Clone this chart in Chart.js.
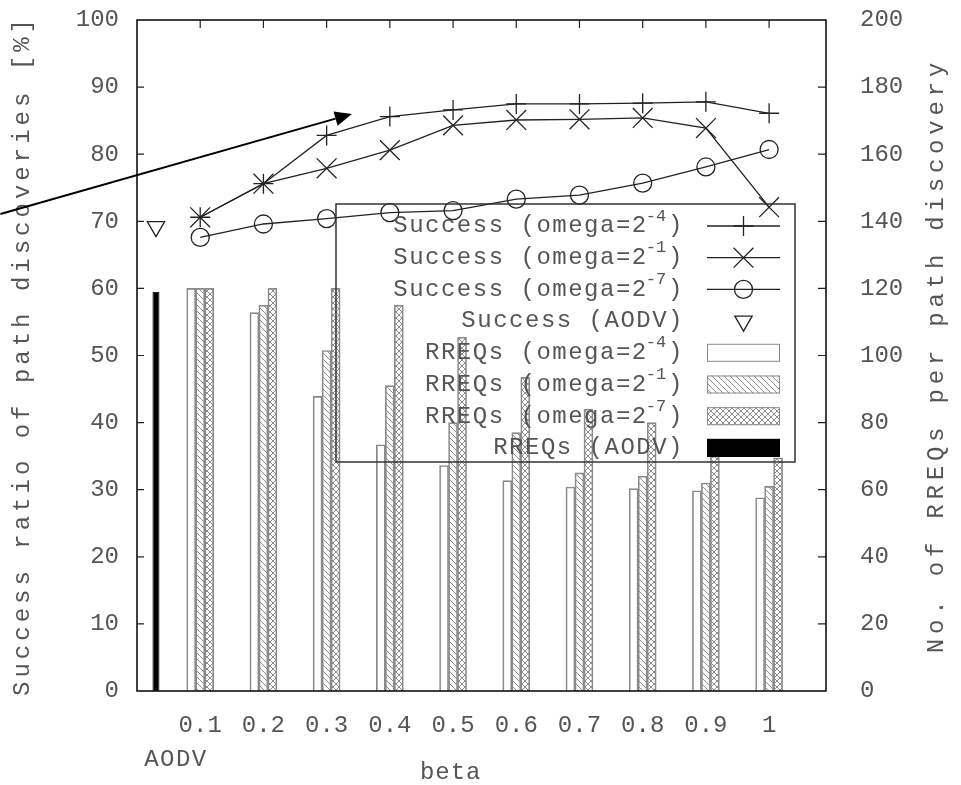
<!DOCTYPE html>
<html><head><meta charset="utf-8">
<script src="https://cdn.jsdelivr.net/npm/chart.js@4"></script>
<style>html,body{margin:0;padding:0;background:#fff;}canvas{display:block;}</style>
</head><body>
<canvas id="c" width="961" height="785"></canvas>
<script>
// ---------- data ----------
const betas = [0.1, 0.2, 0.3, 0.4, 0.5, 0.6, 0.7, 0.8, 0.9, 1];
const betaTickLabels = ['0.1','0.2','0.3','0.4','0.5','0.6','0.7','0.8','0.9','1'];
const successOmega4 = [70.6, 75.6, 82.8, 85.6, 86.6, 87.5, 87.5, 87.6, 87.8, 86.1];
const successOmega1 = [70.6, 75.6, 77.9, 80.6, 84.3, 85.1, 85.2, 85.4, 83.9, 72.1];
const successOmega7 = [67.6, 69.6, 70.4, 71.3, 71.6, 73.3, 73.9, 75.7, 78.1, 80.7];
const aodvBeta = 0.03;
const aodvLabel = 'AODV';
const successAODV = 69.2;
const rreqOmega4 = [120, 112.8, 87.8, 73.4, 67.2, 62.7, 60.8, 60.3, 59.7, 57.6];
const rreqOmega1 = [120, 115, 101.5, 91, 80, 77, 65, 64, 62, 61];
const rreqOmega7 = [120, 120, 120, 115, 105.5, 93.5, 84, 80, 70, 69.5];
const rreqAODV = 119;
const legendLabels = ['Success (omega=2','Success (omega=2','Success (omega=2','Success (AODV)',
                      'RREQs (omega=2','RREQs (omega=2','RREQs (omega=2','RREQs (AODV)'];
const legendSups = ['-4','-1','-7','','-4','-1','-7',''];
const arrowFrom = {x: -0.216, y: 71.1};
const arrowTo = {x: 0.34, y: 86.0};
const xTitle = 'beta';
const yTitle = 'Success ratio of path discoveries [%]';
const y2Title = 'No. of RREQs per path discovery';

// ---------- styles ----------
const FONT = "'Liberation Mono', 'DejaVu Sans Mono', monospace";
const TXT = '#555';
const LINE = '#222';
const canvas = document.getElementById('c');
const mainCtx = canvas.getContext('2d');

function makePattern(kind) {
  const c = document.createElement('canvas');
  c.width = 6; c.height = 6;
  const g = c.getContext('2d');
  g.strokeStyle = '#8c8c8c'; g.lineWidth = 1;
  g.beginPath();
  if (kind === 'diag' || kind === 'cross') { g.moveTo(0, 0); g.lineTo(6, 6); }
  if (kind === 'cross') { g.moveTo(6, 0); g.lineTo(0, 6); }
  g.stroke();
  return mainCtx.createPattern(c, 'repeat');
}
const patDiag = makePattern('diag');
const patCross = makePattern('cross');

const xy = (xs, ys) => xs.map((x, i) => ({x, y: ys[i]}));

const lineDs = (label, data, style, radius, rot) => ({
  type: 'line', label, data, yAxisID: 'y', order: 0,
  borderColor: LINE, borderWidth: 1.3, fill: false, tension: 0,
  pointStyle: style, pointRadius: radius, pointRotation: rot || 0,
  pointBorderColor: LINE, pointBackgroundColor: 'rgba(0,0,0,0)', pointBorderWidth: 1.3
});
const barDs = (label, data, bg, border, extra) => Object.assign({
  type: 'bar', label, data, yAxisID: 'y2', order: 1,
  backgroundColor: bg, borderColor: border, borderWidth: 1, barThickness: 9
}, extra || {});

const datasets = [
  lineDs('Success (omega=2^-4)', xy(betas, successOmega4), 'cross', 10),
  lineDs('Success (omega=2^-1)', xy(betas, successOmega1), 'crossRot', 14),
  lineDs('Success (omega=2^-7)', xy(betas, successOmega7), 'circle', 9),
  Object.assign(lineDs('Success (AODV)', [{x: aodvBeta, y: successAODV}], 'triangle', 10, 180), {showLine: false}),
  barDs('RREQs (omega=2^-4)', xy(betas, rreqOmega4), 'rgba(255,255,255,0)', '#8a8a8a'),
  barDs('RREQs (omega=2^-1)', xy(betas, rreqOmega1), patDiag, '#8a8a8a'),
  barDs('RREQs (omega=2^-7)', xy(betas, rreqOmega7), patCross, '#8a8a8a'),
  barDs('RREQs (AODV)', [{x: aodvBeta, y: rreqAODV}], '#000', '#000', {grouped: false, barThickness: undefined, maxBarThickness: 7})
];

// ---------- helpers ----------
function drawMarker(ctx, style, r, x, y, rot) {
  ctx.beginPath();
  if (style === 'cross') { ctx.moveTo(x - r, y); ctx.lineTo(x + r, y); ctx.moveTo(x, y - r); ctx.lineTo(x, y + r); }
  else if (style === 'crossRot') { const d = r * Math.SQRT1_2; ctx.moveTo(x - d, y - d); ctx.lineTo(x + d, y + d); ctx.moveTo(x + d, y - d); ctx.lineTo(x - d, y + d); }
  else if (style === 'circle') { ctx.arc(x, y, r, 0, Math.PI * 2); }
  else if (style === 'triangle') {
    let a = (rot || 0) * Math.PI / 180;
    for (let k = 0; k < 3; k++) { const px = x + Math.sin(a) * r, py = y - Math.cos(a) * r; k ? ctx.lineTo(px, py) : ctx.moveTo(px, py); a += 2 * Math.PI / 3; }
    ctx.closePath();
  }
  ctx.stroke();
}

const titleSpacing = {y: '4px', y2: '4.8px', x: '1px'};

const customPlugin = {
  id: 'gnuplotLook',
  beforeDraw(chart) {
    for (const id of Object.keys(titleSpacing)) {
      const s = chart.scales[id];
      if (s && !s._lsPatched) {
        const orig = s.drawTitle.bind(s);
        s.drawTitle = function () {
          const c = this.ctx; c.save(); c.letterSpacing = titleSpacing[id];
          if (id === 'y2') {
            const o = this.options.title;
            c.font = '24px ' + FONT; c.fillStyle = o.color;
            c.textAlign = 'center'; c.textBaseline = 'middle';
            c.translate(this.right - 24, (this.top + this.bottom) / 2);
            c.rotate(-Math.PI / 2);
            c.fillText(o.text, 0, 0);
          } else {
            orig();
          }
          c.restore();
        };
        s._lsPatched = true;
      }
    }
  },
  afterDatasetsDraw(chart) {
    const {ctx, chartArea: a, scales} = chart;
    const xs = scales.x, ys = scales.y, y2s = scales.y2;
    ctx.save();
    // frame
    ctx.strokeStyle = '#111'; ctx.lineWidth = 1.6;
    ctx.strokeRect(a.left, a.top, a.right - a.left, a.bottom - a.top);
    // inward ticks
    ctx.lineWidth = 1.2; ctx.strokeStyle = '#222';
    ctx.beginPath();
    ys.ticks.forEach(t => { if (t.value > ys.min && t.value < ys.max) { const p = ys.getPixelForValue(t.value); ctx.moveTo(a.left, p); ctx.lineTo(a.left + 7, p); } });
    y2s.ticks.forEach(t => { if (t.value > y2s.min && t.value < y2s.max) { const p = y2s.getPixelForValue(t.value); ctx.moveTo(a.right, p); ctx.lineTo(a.right - 8, p); } });
    xs.ticks.forEach(t => { const p = xs.getPixelForValue(t.value); ctx.moveTo(p, a.top); ctx.lineTo(p, a.top + 8); });
    ctx.stroke();

    // legend box
    const L = a.left + 199, R = a.right - 31, T = a.top + 184, B = a.top + 442;
    ctx.strokeStyle = '#333'; ctx.lineWidth = 1.5;
    ctx.strokeRect(L, T, R - L, B - T);
    const rowH = 31.7;
    const textRight = R - 111, sx1 = R - 88, sx2 = R - 15, smid = (sx1 + sx2) / 2;
    ctx.textBaseline = 'middle';
    ctx.textAlign = 'left';
    legendLabels.forEach((lab, i) => {
      const yy = T + 22 + i * rowH;
      ctx.fillStyle = TXT;
      ctx.letterSpacing = '1.5px';
      ctx.font = '24px ' + FONT;
      const w1 = ctx.measureText(lab).width;
      const w3 = ctx.measureText(')').width;
      ctx.font = '17px ' + FONT;
      ctx.letterSpacing = '0px';
      const sup = legendSups[i];
      const w2 = sup ? ctx.measureText(sup).width : 0;
      let x0 = textRight - (w1 + w2 + w3);
      if (sup) {
        ctx.font = '24px ' + FONT; ctx.letterSpacing = '1.5px';
        ctx.fillText(lab, x0, yy);
        ctx.font = '17px ' + FONT; ctx.letterSpacing = '0px';
        ctx.fillText(sup, x0 + w1 - 2, yy - 10);
        ctx.font = '24px ' + FONT; ctx.letterSpacing = '1.5px';
        ctx.fillText(')', x0 + w1 + w2, yy);
      } else {
        ctx.font = '24px ' + FONT; ctx.letterSpacing = '1.5px';
        x0 = textRight - w1;
        ctx.fillText(lab, x0, yy);
      }
      ctx.letterSpacing = '0px';
      const ds = chart.data.datasets[i];
      if (ds.type === 'line') {
        ctx.strokeStyle = LINE; ctx.lineWidth = 1.3;
        if (ds.showLine !== false) { ctx.beginPath(); ctx.moveTo(sx1, yy); ctx.lineTo(sx2, yy); ctx.stroke(); }
        drawMarker(ctx, ds.pointStyle, ds.pointRadius, smid, yy, ds.pointRotation);
      } else {
        ctx.fillStyle = ds.backgroundColor;
        ctx.fillRect(sx1, yy - 9, sx2 - sx1, 18);
        ctx.strokeStyle = ds.borderColor; ctx.lineWidth = 1;
        ctx.strokeRect(sx1 + 0.5, yy - 8.5, sx2 - sx1 - 1, 17);
      }
    });

    // AODV category label
    ctx.fillStyle = TXT;
    ctx.font = '24px ' + FONT; ctx.letterSpacing = '1.5px';
    ctx.textAlign = 'center'; ctx.textBaseline = 'middle';
    ctx.fillText(aodvLabel, xs.getPixelForValue(aodvBeta) + 20, a.bottom + 69);
    ctx.letterSpacing = '0px';

    // arrow
    const x1 = xs.getPixelForValue(arrowFrom.x), y1 = ys.getPixelForValue(arrowFrom.y);
    const x2 = xs.getPixelForValue(arrowTo.x), y2 = ys.getPixelForValue(arrowTo.y);
    const ang = Math.atan2(y2 - y1, x2 - x1), hl = 17, hw = 7.5;
    const bx = x2 - Math.cos(ang) * hl, by = y2 - Math.sin(ang) * hl;
    ctx.strokeStyle = '#000'; ctx.lineWidth = 2;
    ctx.beginPath(); ctx.moveTo(x1, y1); ctx.lineTo(bx, by); ctx.stroke();
    ctx.fillStyle = '#000';
    ctx.beginPath();
    ctx.moveTo(x2, y2);
    ctx.lineTo(bx + Math.sin(ang) * hw, by - Math.cos(ang) * hw);
    ctx.lineTo(bx - Math.sin(ang) * hw, by + Math.cos(ang) * hw);
    ctx.closePath(); ctx.fill();
    ctx.restore();
  }
};

const noPad = s => { s.paddingTop = 0; s.paddingBottom = 0; s.paddingLeft = 0; s.paddingRight = 0; };
const tickFont = {family: FONT, size: 24};
new Chart(canvas, {
  type: 'line',
  data: {datasets},
  options: {
    responsive: false,
    animation: false,
    layout: {padding: {top: 20, left: 0, right: 0, bottom: 0}},
    plugins: {legend: {display: false}, tooltip: {enabled: false}},
    scales: {
      x: {
        type: 'linear', min: 0, max: 1.09, offset: false,
        afterBuildTicks: s => { s.ticks = betas.map(v => ({value: v})); },
        afterFit: s => { s.height = 94; noPad(s); },
        ticks: {callback: (v, i) => betaTickLabels[i], font: tickFont, color: TXT, padding: 20, maxRotation: 0, autoSkip: false},
        grid: {display: false, drawTicks: false}, border: {display: false},
        title: {display: true, text: xTitle + '    ', font: {family: FONT, size: 24, lineHeight: 1}, color: TXT, padding: 0}
      },
      y: {
        type: 'linear', position: 'left', min: 0, max: 100,
        afterFit: s => { s.width = 137; noPad(s); },
        ticks: {stepSize: 10, font: tickFont, color: TXT, padding: 18},
        grid: {display: false, drawTicks: false}, border: {display: false},
        title: {display: true, text: yTitle, font: {family: FONT, size: 24}, color: TXT, padding: {top: 8, bottom: 0}}
      },
      y2: {
        type: 'linear', position: 'right', min: 0, max: 200,
        afterFit: s => { s.width = 135; noPad(s); },
        ticks: {stepSize: 20, font: tickFont, color: TXT, padding: 34},
        grid: {display: false, drawTicks: false}, border: {display: false},
        title: {display: true, text: y2Title, font: {family: FONT, size: 24}, color: TXT, padding: {top: 10, bottom: 0}}
      }
    }
  },
  plugins: [customPlugin]
});
</script>
</body></html>
